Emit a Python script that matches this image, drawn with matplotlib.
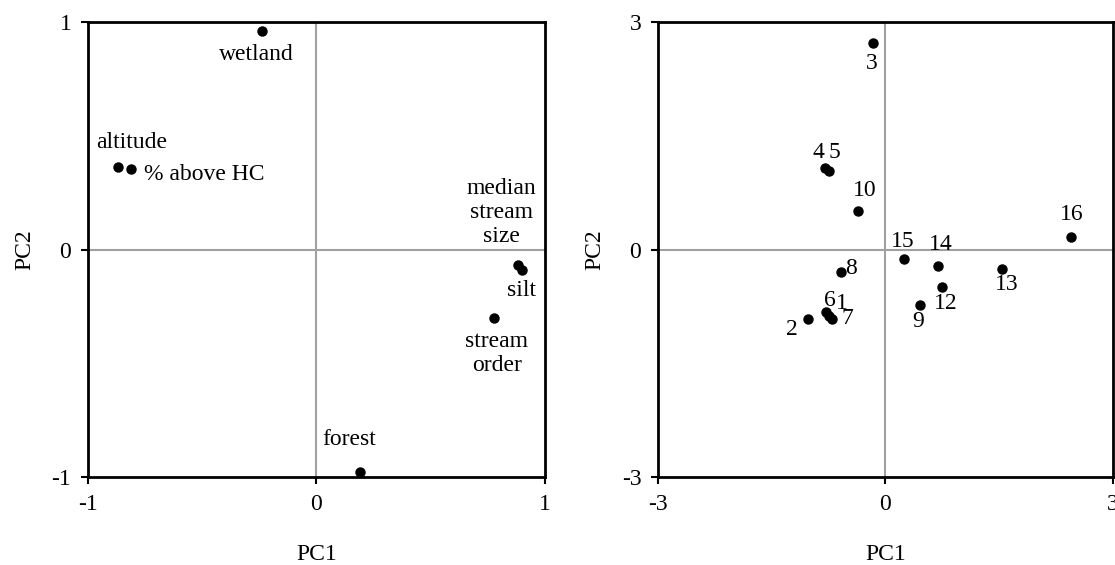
import matplotlib
matplotlib.use("Agg")
import matplotlib.pyplot as plt

plt.rcParams['font.family'] = ['Liberation Serif', 'DejaVu Serif']
plt.rcParams['font.size'] = 17

# Loadings of environmental variables (left panel)
var_names = ["wetland", "altitude", "% above HC", "median\nstream\nsize", "silt",
             "stream\norder", "forest"]
var_pc1 = [-0.24, -0.87, -0.81, 0.88, 0.90, 0.775, 0.19]
var_pc2 = [0.96, 0.365, 0.356, -0.066, -0.088, -0.30, -0.98]

# Site scores (right panel)
site_names = ["1", "2", "3", "4", "5", "6", "7", "8", "9", "10", "12", "13", "14", "15", "16"]
site_pc1 = [-0.74, -1.02, -0.16, -0.80, -0.74, -0.78, -0.70, -0.59, 0.45, -0.36, 0.74, 1.53, 0.69, 0.24, 2.44]
site_pc2 = [-0.87, -0.92, 2.72, 1.07, 1.04, -0.83, -0.91, -0.30, -0.73, 0.51, -0.49, -0.26, -0.22, -0.13, 0.17]

# label offsets in pixels (dx, dy) and alignment
var_offsets = [(-5, -23, 'center'), (14, 24, 'center'), (13, -6, 'left'),
               (-16, 52, 'center'), (-1, -21, 'center'), (3, -36, 'center'),
               (-11, 33, 'center')]
site_offsets = {"1": (13, 12), "2": (-16, -10), "3": (-2, -20), "4": (-6, 16),
                "5": (5, 18), "6": (4, 12), "7": (15, 0), "8": (10, 4),
                "9": (-1, -17), "10": (7, 20), "12": (4, -17), "13": (5, -15),
                "14": (3, 22), "15": (-1, 18), "16": (1, 22)}


def style_axes(ax, lim):
    ax.set_xlim(-lim, lim)
    ax.set_ylim(-lim, lim)
    ax.set_xticks([-lim, 0, lim])
    ax.set_yticks([-lim, 0, lim])
    ax.set_xticklabels([str(-lim), "0", str(lim)])
    ax.set_yticklabels([str(-lim), "0", str(lim)])
    ax.axhline(0, color='#a0a0a0', lw=1.5, zorder=0)
    ax.axvline(0, color='#a0a0a0', lw=1.5, zorder=0)
    for s in ax.spines.values():
        s.set_linewidth(2)
        s.set_color('black')
    ax.tick_params(direction='out', length=5, width=1.5, pad=7, labelsize=17)
    ax.set_xlabel("PC1", fontsize=17, labelpad=21)
    ax.set_ylabel("PC2", fontsize=17, labelpad=12)


fig = plt.figure(figsize=(11.15, 5.65), dpi=100)
ax1 = fig.add_axes([0.0789, 0.1558, 0.4099, 0.805])
ax2 = fig.add_axes([0.5901, 0.1558, 0.4081, 0.805])

style_axes(ax1, 1)
ax1.plot(var_pc1, var_pc2, 'o', color='black', ms=6.5)
for name, x, y, (dx, dy, ha) in zip(var_names, var_pc1, var_pc2, var_offsets):
    ax1.annotate(name, (x, y), xytext=(dx, dy), textcoords='offset pixels',
                 ha=ha, va='center', fontsize=17, linespacing=1.2)

style_axes(ax2, 3)
ax2.plot(site_pc1, site_pc2, 'o', color='black', ms=6.5)
for name, x, y in zip(site_names, site_pc1, site_pc2):
    dx, dy = site_offsets[name]
    ax2.annotate(name, (x, y), xytext=(dx, dy), textcoords='offset pixels',
                 ha='center', va='center', fontsize=17)

fig.savefig("out.png", dpi=100)
